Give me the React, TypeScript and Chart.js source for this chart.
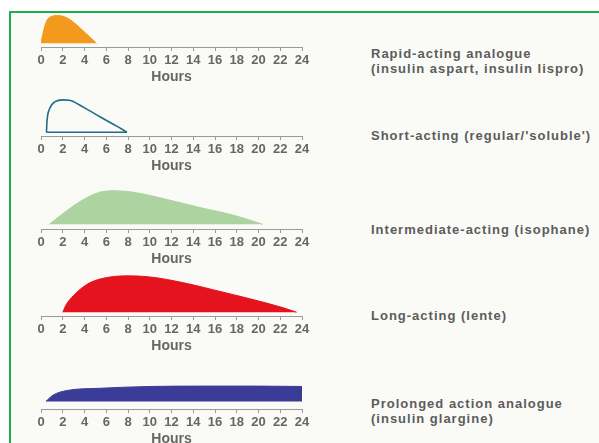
import React, { useEffect, useRef } from "react";
import { Chart, registerables } from "chart.js";
Chart.register(...registerables);

// ---- Data (hours after injection, relative action level) ----
const rapidHours = [0, 0.2, 0.5, 1.0, 1.6, 2.5, 3.3, 4.2, 5.1];
const rapidLevels = [0, 0.3, 0.6, 0.74, 0.76, 0.68, 0.5, 0.25, 0];

const shortHours = [0.5, 0.55, 0.8, 1.3, 2.0, 2.6, 4.0, 5.5, 7.0, 7.9];
const shortLevels = [0, 0.3, 0.65, 0.84, 0.89, 0.88, 0.67, 0.41, 0.16, 0];

const interHours = [0.77, 2.4, 3.9, 5.4, 6.8, 8.5, 11.6, 14.6, 17.7, 20.4];
const interLevels = [0, 0.38, 0.68, 0.88, 0.92, 0.88, 0.68, 0.46, 0.25, 0];

const longHours = [2.0, 2.3, 3.0, 4.2, 5.4, 7.9, 10.0, 13.1, 16.2, 19.2, 22.3, 23.5];
const longLevels = [0, 0.2, 0.46, 0.76, 0.91, 1.0, 0.97, 0.81, 0.59, 0.37, 0.12, 0];

const prolongedHours = [0.45, 1.1, 2.4, 5.4, 10.0, 14.6, 20.0, 24.0];
const prolongedLevels = [0, 0.17, 0.3, 0.36, 0.41, 0.42, 0.42, 0.41];

const hourTicks = [0, 2, 4, 6, 8, 10, 12, 14, 16, 18, 20, 22, 24];
const axisTitle = "Hours";

const labelLines = [
  ["Rapid-acting analogue", "(insulin aspart, insulin lispro)"],
  ["Short-acting (regular/'soluble')"],
  ["Intermediate-acting (isophane)"],
  ["Long-acting (lente)"],
  ["Prolonged action analogue", "(insulin glargine)"],
];

// ---- Layout ----
const PX_PER_UNIT = 38;
const AREA_H = 46;
const AXIS_BOX_H = 35;
const PAD = 20;
const X0 = 41;
const X24 = 302;
const FONT = "'Liberation Sans', Arial, Helvetica, sans-serif";

type PanelSpec = {
  hours: number[];
  levels: number[];
  color: string;
  outline?: boolean;
  axisY: number;
  gap: number;
};

const panels: PanelSpec[] = [
  { hours: rapidHours, levels: rapidLevels, color: "#f39a1e", axisY: 49, gap: 4 },
  { hours: shortHours, levels: shortLevels, color: "#1f6c88", outline: true, axisY: 138, gap: 4 },
  { hours: interHours, levels: interLevels, color: "#acd3a0", axisY: 231, gap: 5 },
  { hours: longHours, levels: longLevels, color: "#e5131d", axisY: 318, gap: 4 },
  { hours: prolongedHours, levels: prolongedLevels, color: "#3b3b98", axisY: 411, gap: 8 },
];

const labelCenters = [
  [53, 68],
  [135],
  [229],
  [315],
  [403, 418],
];

function Panel({ spec }: { spec: PanelSpec }) {
  const ref = useRef<HTMLCanvasElement | null>(null);
  useEffect(() => {
    if (!ref.current) return;
    const pts = spec.hours.map((h, i) => ({ x: h, y: spec.levels[i] }));
    const yMin = -spec.gap / PX_PER_UNIT;
    const yMax = yMin + AREA_H / PX_PER_UNIT;
    const datasets: any[] = [
      {
        data: pts,
        borderColor: spec.color,
        backgroundColor: spec.outline ? "rgba(0,0,0,0)" : spec.color,
        borderWidth: spec.outline ? 1.6 : 1,
        fill: spec.outline ? false : "origin",
        pointRadius: 0,
        cubicInterpolationMode: "monotone",
      },
    ];
    if (spec.outline) {
      datasets.push({
        data: [
          { x: spec.hours[0], y: 0 },
          { x: spec.hours[spec.hours.length - 1], y: 0 },
        ],
        borderColor: spec.color,
        borderWidth: 1.6,
        fill: false,
        pointRadius: 0,
      });
    }
    const chart = new Chart(ref.current, {
      type: "line",
      data: { datasets },
      options: {
        animation: false,
        responsive: true,
        maintainAspectRatio: false,
        layout: { padding: { left: PAD, right: PAD, top: 0, bottom: 0 } },
        plugins: { legend: { display: false }, tooltip: { enabled: false } },
        scales: {
          x: {
            type: "linear",
            min: 0,
            max: 24,
            afterBuildTicks: (s: any) => {
              s.ticks = hourTicks.map((v) => ({ value: v }));
            },
            ticks: {
              autoSkip: false,
              maxRotation: 0,
              padding: 2,
              color: "#666",
              font: { family: FONT, size: 13, weight: "bold", lineHeight: 1.15 },
            },
            grid: {
              drawOnChartArea: false,
              drawTicks: true,
              tickLength: 4,
              color: "#9a9a9a",
            },
            border: { display: true, color: "#9a9a9a", width: 1 },
            title: {
              display: true,
              text: axisTitle,
              color: "#666",
              padding: { top: 0, bottom: 0 },
              font: { family: FONT, size: 14, weight: "bold", lineHeight: 1 },
            },
          },
          y: { display: false, min: yMin, max: yMax },
        },
      },
    });
    return () => chart.destroy();
  }, [spec]);
  return (
    <div
      style={{
        position: "absolute",
        left: X0 - PAD,
        top: spec.axisY - AREA_H,
        width: X24 - X0 + 2 * PAD,
        height: AREA_H + AXIS_BOX_H,
      }}
    >
      <canvas ref={ref} />
    </div>
  );
}

export default function App() {
  return (
    <div
      style={{
        position: "fixed",
        left: 0,
        top: 0,
        width: 599,
        height: 443,
        background: "#ffffff",
        overflow: "hidden",
      }}
    >
      <div
        style={{
          position: "absolute",
          left: 9,
          top: 11,
          right: 0,
          bottom: 0,
          borderLeft: "2px solid #19b04a",
          borderTop: "2px solid #19b04a",
          background: "#fafaf6",
        }}
      />
      {panels.map((p, i) => (
        <Panel key={i} spec={p} />
      ))}
      {labelLines.map((lines, i) =>
        lines.map((t, j) => (
          <div
            key={i + "-" + j}
            style={{
              position: "absolute",
              left: 371,
              top: labelCenters[i][j] - 7.5,
              height: 15,
              lineHeight: "15px",
              fontFamily: FONT,
              fontWeight: "bold",
              fontSize: 13,
              letterSpacing: "1px",
              color: "#5c5c5c",
              whiteSpace: "nowrap",
            }}
          >
            {t}
          </div>
        ))
      )}
    </div>
  );
}
